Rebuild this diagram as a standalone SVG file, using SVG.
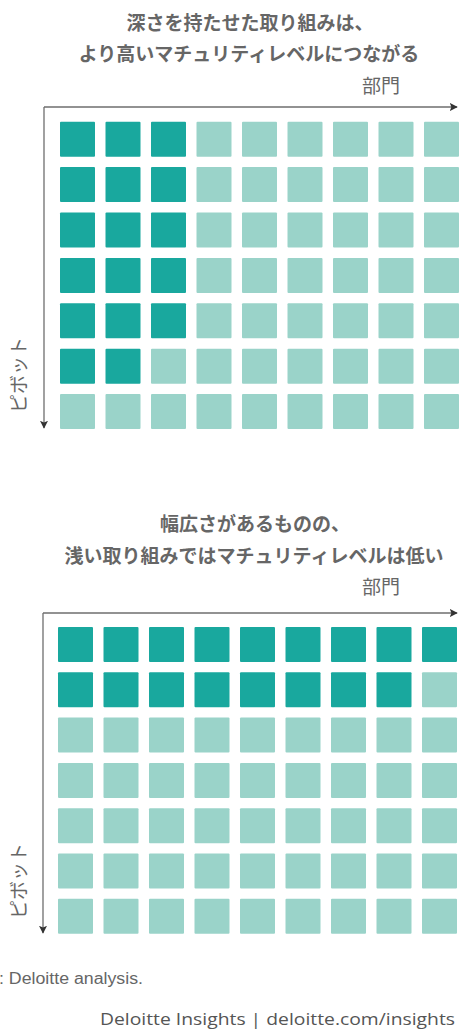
<svg xmlns="http://www.w3.org/2000/svg" width="459" height="1033" viewBox="0 0 459 1033">
<defs>
<style>
.title{font-family:"Noto Sans CJK JP","Noto Sans",sans-serif;font-weight:bold;font-size:19px;fill:#666;text-anchor:middle}
.axlab{font-family:"Noto Sans CJK JP","Noto Sans",sans-serif;font-size:19px;fill:#666}
.ax{stroke:#6e6e6e;stroke-width:1.3;fill:none}
.d{fill:#19a89e}
.l{fill:#9ad3c9}
.src{font-family:"Liberation Sans",Arial,sans-serif;font-size:16px;fill:#666}
.brand{font-family:"Open Sans","Liberation Sans",sans-serif;font-size:17px;fill:#555;text-anchor:end}
</style>
<marker id="ah" viewBox="0 0 10 10" refX="9" refY="5" markerWidth="8" markerHeight="8" markerUnits="userSpaceOnUse" orient="auto">
<path d="M0,0 L10,5 L0,10 L2,5 z" fill="#333"/>
</marker>
</defs>
<rect width="459" height="1033" fill="#fff"/>

<g id="chart-depth">
<text class="title" x="250" y="30">深さを持たせた取り組みは、</text>
<text class="title" x="249" y="61">より高いマチュリティレベルにつながる</text>
<text class="axlab" x="362" y="93">部門</text>
<text class="axlab" transform="translate(26,375) rotate(-90)" text-anchor="middle" font-size="17">ピボット</text>
<g id="grid-depth">
<rect class="d" x="60" y="121.7" width="35" height="35" rx="1"/><rect class="d" x="105.5" y="121.7" width="35" height="35" rx="1"/><rect class="d" x="151" y="121.7" width="35" height="35" rx="1"/><rect class="l" x="196.5" y="121.7" width="35" height="35" rx="1"/><rect class="l" x="242" y="121.7" width="35" height="35" rx="1"/><rect class="l" x="287.5" y="121.7" width="35" height="35" rx="1"/><rect class="l" x="333" y="121.7" width="35" height="35" rx="1"/><rect class="l" x="378.5" y="121.7" width="35" height="35" rx="1"/><rect class="l" x="424" y="121.7" width="35" height="35" rx="1"/>
<rect class="d" x="60" y="167.1" width="35" height="35" rx="1"/><rect class="d" x="105.5" y="167.1" width="35" height="35" rx="1"/><rect class="d" x="151" y="167.1" width="35" height="35" rx="1"/><rect class="l" x="196.5" y="167.1" width="35" height="35" rx="1"/><rect class="l" x="242" y="167.1" width="35" height="35" rx="1"/><rect class="l" x="287.5" y="167.1" width="35" height="35" rx="1"/><rect class="l" x="333" y="167.1" width="35" height="35" rx="1"/><rect class="l" x="378.5" y="167.1" width="35" height="35" rx="1"/><rect class="l" x="424" y="167.1" width="35" height="35" rx="1"/>
<rect class="d" x="60" y="212.5" width="35" height="35" rx="1"/><rect class="d" x="105.5" y="212.5" width="35" height="35" rx="1"/><rect class="d" x="151" y="212.5" width="35" height="35" rx="1"/><rect class="l" x="196.5" y="212.5" width="35" height="35" rx="1"/><rect class="l" x="242" y="212.5" width="35" height="35" rx="1"/><rect class="l" x="287.5" y="212.5" width="35" height="35" rx="1"/><rect class="l" x="333" y="212.5" width="35" height="35" rx="1"/><rect class="l" x="378.5" y="212.5" width="35" height="35" rx="1"/><rect class="l" x="424" y="212.5" width="35" height="35" rx="1"/>
<rect class="d" x="60" y="257.9" width="35" height="35" rx="1"/><rect class="d" x="105.5" y="257.9" width="35" height="35" rx="1"/><rect class="d" x="151" y="257.9" width="35" height="35" rx="1"/><rect class="l" x="196.5" y="257.9" width="35" height="35" rx="1"/><rect class="l" x="242" y="257.9" width="35" height="35" rx="1"/><rect class="l" x="287.5" y="257.9" width="35" height="35" rx="1"/><rect class="l" x="333" y="257.9" width="35" height="35" rx="1"/><rect class="l" x="378.5" y="257.9" width="35" height="35" rx="1"/><rect class="l" x="424" y="257.9" width="35" height="35" rx="1"/>
<rect class="d" x="60" y="303.3" width="35" height="35" rx="1"/><rect class="d" x="105.5" y="303.3" width="35" height="35" rx="1"/><rect class="d" x="151" y="303.3" width="35" height="35" rx="1"/><rect class="l" x="196.5" y="303.3" width="35" height="35" rx="1"/><rect class="l" x="242" y="303.3" width="35" height="35" rx="1"/><rect class="l" x="287.5" y="303.3" width="35" height="35" rx="1"/><rect class="l" x="333" y="303.3" width="35" height="35" rx="1"/><rect class="l" x="378.5" y="303.3" width="35" height="35" rx="1"/><rect class="l" x="424" y="303.3" width="35" height="35" rx="1"/>
<rect class="d" x="60" y="348.7" width="35" height="35" rx="1"/><rect class="d" x="105.5" y="348.7" width="35" height="35" rx="1"/><rect class="l" x="151" y="348.7" width="35" height="35" rx="1"/><rect class="l" x="196.5" y="348.7" width="35" height="35" rx="1"/><rect class="l" x="242" y="348.7" width="35" height="35" rx="1"/><rect class="l" x="287.5" y="348.7" width="35" height="35" rx="1"/><rect class="l" x="333" y="348.7" width="35" height="35" rx="1"/><rect class="l" x="378.5" y="348.7" width="35" height="35" rx="1"/><rect class="l" x="424" y="348.7" width="35" height="35" rx="1"/>
<rect class="l" x="60" y="394.1" width="35" height="35" rx="1"/><rect class="l" x="105.5" y="394.1" width="35" height="35" rx="1"/><rect class="l" x="151" y="394.1" width="35" height="35" rx="1"/><rect class="l" x="196.5" y="394.1" width="35" height="35" rx="1"/><rect class="l" x="242" y="394.1" width="35" height="35" rx="1"/><rect class="l" x="287.5" y="394.1" width="35" height="35" rx="1"/><rect class="l" x="333" y="394.1" width="35" height="35" rx="1"/><rect class="l" x="378.5" y="394.1" width="35" height="35" rx="1"/><rect class="l" x="424" y="394.1" width="35" height="35" rx="1"/>
</g>
</g>

<g id="chart-breadth">
<text class="title" x="255" y="531">幅広さがあるものの、</text>
<text class="title" x="254" y="563">浅い取り組みではマチュリティレベルは低い</text>
<text class="axlab" x="362" y="594">部門</text>
<text class="axlab" transform="translate(26,881) rotate(-90)" text-anchor="middle" font-size="17">ピボット</text>
<g id="grid-breadth">
<rect class="d" x="58" y="627" width="35" height="35" rx="1"/><rect class="d" x="103.5" y="627" width="35" height="35" rx="1"/><rect class="d" x="149" y="627" width="35" height="35" rx="1"/><rect class="d" x="194.5" y="627" width="35" height="35" rx="1"/><rect class="d" x="240" y="627" width="35" height="35" rx="1"/><rect class="d" x="285.5" y="627" width="35" height="35" rx="1"/><rect class="d" x="331" y="627" width="35" height="35" rx="1"/><rect class="d" x="376.5" y="627" width="35" height="35" rx="1"/><rect class="d" x="422" y="627" width="35" height="35" rx="1"/>
<rect class="d" x="58" y="672.3" width="35" height="35" rx="1"/><rect class="d" x="103.5" y="672.3" width="35" height="35" rx="1"/><rect class="d" x="149" y="672.3" width="35" height="35" rx="1"/><rect class="d" x="194.5" y="672.3" width="35" height="35" rx="1"/><rect class="d" x="240" y="672.3" width="35" height="35" rx="1"/><rect class="d" x="285.5" y="672.3" width="35" height="35" rx="1"/><rect class="d" x="331" y="672.3" width="35" height="35" rx="1"/><rect class="d" x="376.5" y="672.3" width="35" height="35" rx="1"/><rect class="l" x="422" y="672.3" width="35" height="35" rx="1"/>
<rect class="l" x="58" y="717.6" width="35" height="35" rx="1"/><rect class="l" x="103.5" y="717.6" width="35" height="35" rx="1"/><rect class="l" x="149" y="717.6" width="35" height="35" rx="1"/><rect class="l" x="194.5" y="717.6" width="35" height="35" rx="1"/><rect class="l" x="240" y="717.6" width="35" height="35" rx="1"/><rect class="l" x="285.5" y="717.6" width="35" height="35" rx="1"/><rect class="l" x="331" y="717.6" width="35" height="35" rx="1"/><rect class="l" x="376.5" y="717.6" width="35" height="35" rx="1"/><rect class="l" x="422" y="717.6" width="35" height="35" rx="1"/>
<rect class="l" x="58" y="762.9" width="35" height="35" rx="1"/><rect class="l" x="103.5" y="762.9" width="35" height="35" rx="1"/><rect class="l" x="149" y="762.9" width="35" height="35" rx="1"/><rect class="l" x="194.5" y="762.9" width="35" height="35" rx="1"/><rect class="l" x="240" y="762.9" width="35" height="35" rx="1"/><rect class="l" x="285.5" y="762.9" width="35" height="35" rx="1"/><rect class="l" x="331" y="762.9" width="35" height="35" rx="1"/><rect class="l" x="376.5" y="762.9" width="35" height="35" rx="1"/><rect class="l" x="422" y="762.9" width="35" height="35" rx="1"/>
<rect class="l" x="58" y="808.2" width="35" height="35" rx="1"/><rect class="l" x="103.5" y="808.2" width="35" height="35" rx="1"/><rect class="l" x="149" y="808.2" width="35" height="35" rx="1"/><rect class="l" x="194.5" y="808.2" width="35" height="35" rx="1"/><rect class="l" x="240" y="808.2" width="35" height="35" rx="1"/><rect class="l" x="285.5" y="808.2" width="35" height="35" rx="1"/><rect class="l" x="331" y="808.2" width="35" height="35" rx="1"/><rect class="l" x="376.5" y="808.2" width="35" height="35" rx="1"/><rect class="l" x="422" y="808.2" width="35" height="35" rx="1"/>
<rect class="l" x="58" y="853.5" width="35" height="35" rx="1"/><rect class="l" x="103.5" y="853.5" width="35" height="35" rx="1"/><rect class="l" x="149" y="853.5" width="35" height="35" rx="1"/><rect class="l" x="194.5" y="853.5" width="35" height="35" rx="1"/><rect class="l" x="240" y="853.5" width="35" height="35" rx="1"/><rect class="l" x="285.5" y="853.5" width="35" height="35" rx="1"/><rect class="l" x="331" y="853.5" width="35" height="35" rx="1"/><rect class="l" x="376.5" y="853.5" width="35" height="35" rx="1"/><rect class="l" x="422" y="853.5" width="35" height="35" rx="1"/>
<rect class="l" x="58" y="898.8" width="35" height="35" rx="1"/><rect class="l" x="103.5" y="898.8" width="35" height="35" rx="1"/><rect class="l" x="149" y="898.8" width="35" height="35" rx="1"/><rect class="l" x="194.5" y="898.8" width="35" height="35" rx="1"/><rect class="l" x="240" y="898.8" width="35" height="35" rx="1"/><rect class="l" x="285.5" y="898.8" width="35" height="35" rx="1"/><rect class="l" x="331" y="898.8" width="35" height="35" rx="1"/><rect class="l" x="376.5" y="898.8" width="35" height="35" rx="1"/><rect class="l" x="422" y="898.8" width="35" height="35" rx="1"/>
</g>
</g>

<g id="axes">
<path class="ax" d="M44,107 H457" marker-end="url(#ah)"/>
<path class="ax" d="M44,107 V428" marker-end="url(#ah)"/>
<path class="ax" d="M43,613 H457" marker-end="url(#ah)"/>
<path class="ax" d="M43,613 V933" marker-end="url(#ah)"/>
</g>

<g id="footer">
<text class="src" x="-1" y="984" textLength="144" lengthAdjust="spacingAndGlyphs">: Deloitte analysis.</text>
<text class="brand" x="455" y="1025" textLength="355" lengthAdjust="spacingAndGlyphs">Deloitte Insights | deloitte.com/insights</text>
</g>
</svg>
